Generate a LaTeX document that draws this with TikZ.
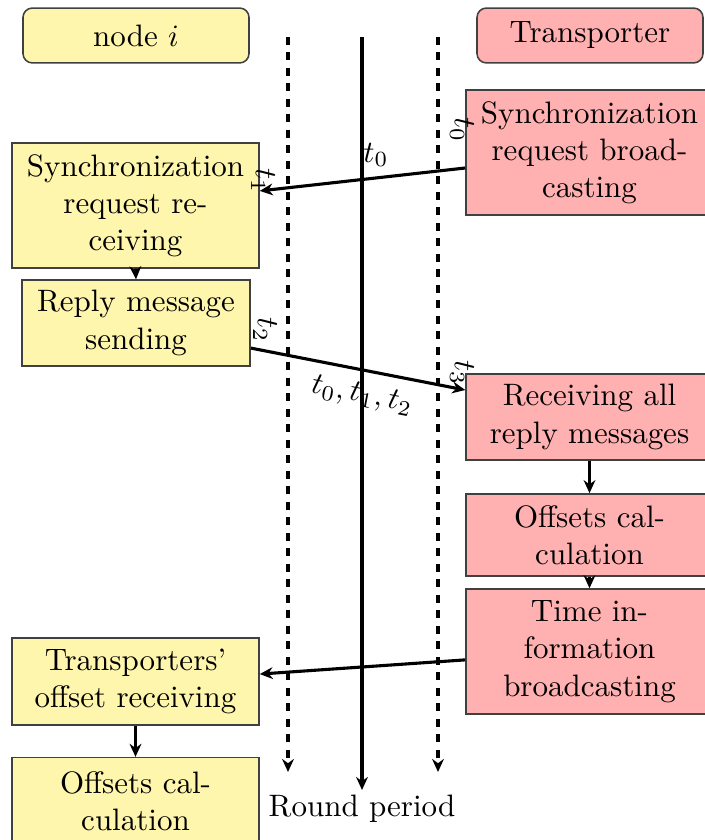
\documentclass[tikz,border=0pt]{standalone}
\usetikzlibrary{arrows.meta}
\definecolor{nodeyellow}{RGB}{255,246,174}
\definecolor{transpink}{RGB}{255,176,176}
\begin{document}
\begin{tikzpicture}[x=0.3226pt, y=-0.3226pt,
  box/.style={draw=black!75, line width=0.5pt, align=center, inner sep=3.33pt},
  ybox/.style={box, fill=nodeyellow},
  pbox/.style={box, fill=transpink},
  wide/.style={text width=73pt},
  titlebox/.style={draw=black!75, line width=0.5pt, rounded corners=3pt, minimum width=72.9pt, minimum height=17.7pt},
  arr/.style={line width=1pt, -{Stealth[length=4.2pt,width=3.8pt]}},
  dline/.style={arr, dash pattern=on 2.5pt off 2.5pt},
  tlabel/.style={rotate=-90, inner sep=0pt}
]
\useasboundingbox (0,0) rectangle (705,840);

% titles
\node[titlebox, fill=nodeyellow] (nodei) at (136,35.5) {node $i$};
\node[titlebox, fill=transpink] (trans) at (590,35.5) {Transporter};

% time lines
\coordinate (l1s) at (288,37);
\coordinate (l1e) at (288,772);
\coordinate (l0s) at (362,37);
\coordinate (l0e) at (362,790);
\coordinate (l2s) at (438,37);
\coordinate (l2e) at (438,772);
\draw[dline] (l1s) -- (l1e);
\draw[dline] (l2s) -- (l2e);
\draw[arr] (l0s) -- (l0e);
\node (round) at (362,809) {Round period};

% node i side
\node[ybox, wide, minimum height=40.3pt] (A) at (135.5,205.5) {Synchronization request receiving};
\node[ybox, text width=67pt, minimum height=27.7pt] (B) at (136,323) {Reply message sending};
\node[ybox, wide, minimum height=28.1pt] (C) at (135.5,681.5) {Transporters' offset receiving};
\node[ybox, wide, minimum height=28pt] (D) at (135.5,801) {Offsets calculation};

% transporter side
\node[pbox, wide, minimum height=40.3pt] (E) at (589.5,152.5) {Synchronization request broadcasting};
\node[pbox, wide, minimum height=27.7pt] (F) at (589.5,417) {Receiving all reply messages};
\node[pbox, wide, minimum height=26.5pt] (G) at (589.5,535) {Offsets calculation};
\node[pbox, wide, minimum height=40.3pt] (H) at (589.5,651.5) {Time information broadcasting};

% flow arrows
\draw[arr] (A.south) -- (B.north);
\draw[arr] (C.south) -- (D.north);
\draw[arr] (F.south) -- (G.north);
\draw[arr] (G.south) -- (H.north);

% messages
\draw[arr] ([yshift=-5pt]E.west) -- ([yshift=4.7pt]A.east);
\draw[arr] ([yshift=-8.1pt]B.east) -- ([yshift=8.7pt]F.west);
\draw[arr] ([yshift=-2.7pt]H.west) -- ([yshift=2.4pt]C.east);

% time stamps
\node[tlabel] (t0a) at (462,130) {$t_0$};
\node[tlabel] (t1) at (263,181) {$t_1$};
\node[tlabel] (t2) at (265,330) {$t_2$};
\node[tlabel] (t3) at (462,373) {$t_3$};
\node (t0b) at (376,155) {$t_0$};
\node[rotate=-11] (lab012) at (362,396) {$t_0, t_1, t_2$};
\end{tikzpicture}
\end{document}
